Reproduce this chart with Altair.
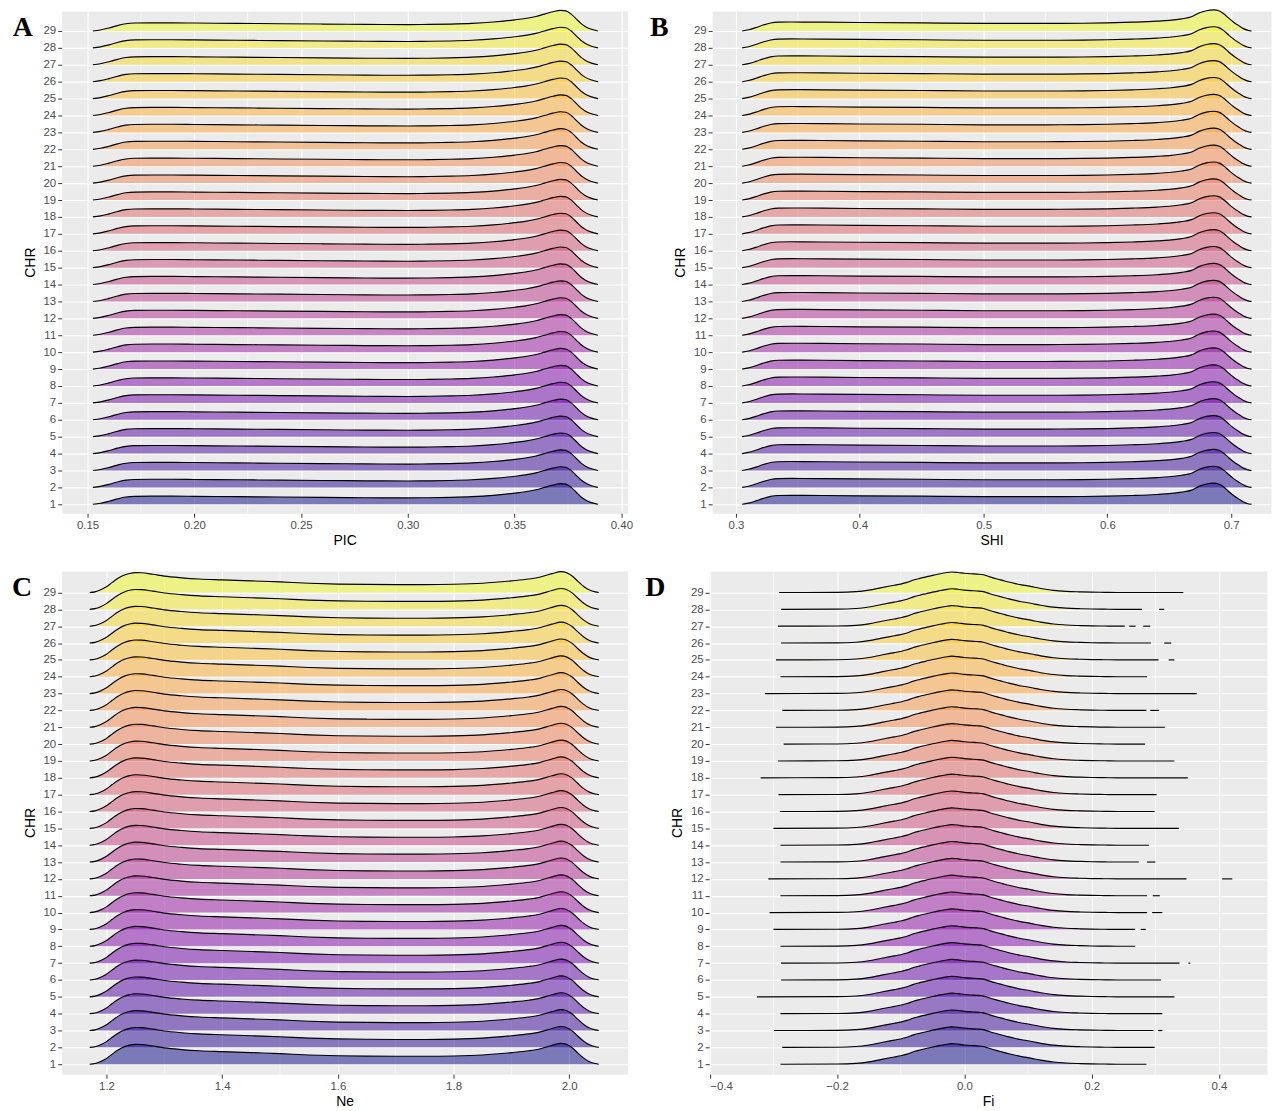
import altair as alt
import pandas as pd

ROWS = list(range(1, 30))

# Panel A: PIC ridge profile (height in row units)
PIC_X = [0.1525, 0.156, 0.160, 0.164, 0.168, 0.172, 0.18, 0.19, 0.20, 0.22, 0.24, 0.26, 0.28, 0.30,
         0.31, 0.32, 0.33, 0.34, 0.35, 0.355, 0.36, 0.364, 0.368, 0.3715, 0.374, 0.3765, 0.379,
         0.381, 0.383, 0.386, 0.389]
PIC_H = [0.0, 0.06, 0.18, 0.32, 0.43, 0.47, 0.48, 0.48, 0.47, 0.45, 0.43, 0.41, 0.39, 0.38,
         0.39, 0.41, 0.45, 0.53, 0.66, 0.74, 0.86, 1.0, 1.14, 1.22, 1.19, 1.0, 0.70,
         0.45, 0.27, 0.10, 0.0]

# Panel B: SHI
SHI_X = [0.305, 0.31, 0.316, 0.322, 0.328, 0.334, 0.345, 0.37, 0.40, 0.45, 0.50, 0.55, 0.58, 0.60,
         0.62, 0.64, 0.65, 0.66, 0.668, 0.674, 0.680, 0.686, 0.690, 0.694, 0.698, 0.702, 0.706,
         0.710, 0.713, 0.7165]
SHI_H = [0.0, 0.07, 0.2, 0.35, 0.47, 0.52, 0.53, 0.52, 0.50, 0.48, 0.45, 0.45, 0.46, 0.48,
         0.52, 0.58, 0.63, 0.72, 0.84, 1.06, 1.2, 1.25, 1.2, 1.02, 0.76, 0.52, 0.32,
         0.14, 0.05, 0.0]

# Panel C: Ne
NE_X = [1.171, 1.18, 1.19, 1.20, 1.21, 1.22, 1.23, 1.24, 1.25, 1.26, 1.28, 1.30, 1.33, 1.36, 1.40,
        1.45, 1.50, 1.55, 1.60, 1.65, 1.70, 1.75, 1.80, 1.85, 1.90, 1.93, 1.95, 1.97, 1.986,
        1.995, 2.005, 2.015, 2.025, 2.035, 2.045, 2.051]
NE_H = [0.0, 0.04, 0.16, 0.34, 0.60, 0.84, 1.02, 1.13, 1.18, 1.17, 1.08, 0.97, 0.87, 0.80, 0.75,
        0.69, 0.63, 0.55, 0.50, 0.48, 0.47, 0.47, 0.49, 0.55, 0.69, 0.80, 0.92, 1.12, 1.24,
        1.18, 0.98, 0.66, 0.36, 0.15, 0.04, 0.0]

# Panel D: Fi
FI_X = [-0.20, -0.17, -0.15, -0.13, -0.11, -0.10, -0.09, -0.08, -0.07, -0.06, -0.05, -0.04, -0.03,
        -0.02, -0.01, 0.0, 0.01, 0.02, 0.03, 0.04, 0.05, 0.06, 0.07, 0.08, 0.09, 0.10, 0.11, 0.12,
        0.13, 0.14, 0.16, 0.18, 0.20, 0.22, 0.24]
FI_H = [0.01, 0.05, 0.14, 0.29, 0.43, 0.50, 0.60, 0.74, 0.84, 0.93, 1.02, 1.10, 1.17,
        1.22, 1.19, 1.14, 1.11, 1.09, 1.05, 0.93, 0.82, 0.72, 0.62, 0.53, 0.45, 0.39, 0.31, 0.24,
        0.18, 0.13, 0.07, 0.04, 0.02, 0.01, 0.0]
FI_LEFT = [-0.289, -0.286, -0.299, -0.289, -0.326, -0.288, -0.288, -0.289, -0.300, -0.306,
           -0.289, -0.308, -0.289, -0.289, -0.300, -0.290, -0.292, -0.320, -0.293, -0.284,
           -0.296, -0.286, -0.313, -0.289, -0.296, -0.288, -0.293, -0.288, -0.291]
FI_RIGHT = [0.286, 0.299, 0.297, 0.311, 0.330, 0.309, 0.338, 0.268, 0.268, 0.287,
            0.287, 0.349, 0.274, 0.290, 0.337, 0.299, 0.302, 0.351, 0.330, 0.284,
            0.315, 0.286, 0.365, 0.287, 0.305, 0.293, 0.252, 0.279, 0.344]
DASH_ROW = [3, 7, 9, 10, 11, 12, 13, 22, 25, 26, 27, 27, 28]
DASH_START = [0.304, 0.352, 0.277, 0.295, 0.296, 0.405, 0.287, 0.292, 0.321, 0.314, 0.259, 0.281, 0.306]
DASH_END = [0.311, 0.355, 0.285, 0.311, 0.307, 0.421, 0.300, 0.306, 0.330, 0.325, 0.269, 0.292, 0.314]

PIC_TICKS = [0.15, 0.20, 0.25, 0.30, 0.35, 0.40]
PIC_MINOR = [0.175, 0.225, 0.275, 0.325, 0.375]
SHI_TICKS = [0.3, 0.4, 0.5, 0.6, 0.7]
SHI_MINOR = [0.35, 0.45, 0.55, 0.65]
NE_TICKS = [1.2, 1.4, 1.6, 1.8, 2.0]
NE_MINOR = [1.3, 1.5, 1.7, 1.9]
FI_TICKS = [-0.4, -0.2, 0.0, 0.2, 0.4]
FI_MINOR = [-0.3, -0.1, 0.1, 0.3]


def same_rows(xs, hs):
    recs = []
    for r in ROWS:
        for x, h in zip(xs, hs):
            recs.append({"row": r, "x": x, "top": r + h, "base": r})
    return pd.DataFrame(recs)


def clipped_rows(xs, hs, lefts, rights):
    recs = []
    for r, lo, hi in zip(ROWS, lefts, rights):
        recs.append({"row": r, "x": lo, "top": r, "base": r})
        for x, h in zip(xs, hs):
            if lo < x < hi:
                recs.append({"row": r, "x": x, "top": r + h, "base": r})
        recs.append({"row": r, "x": hi, "top": r, "base": r})
    return pd.DataFrame(recs)


def panel(df, xdom, ydom, ticks, minor, fmt, title, letter, lx, w, h, dashes=None):
    xs = alt.Scale(domain=xdom, nice=False, zero=False)
    ys = alt.Scale(domain=ydom, nice=False, zero=False)
    xaxis = alt.Axis(values=ticks, format=fmt, grid=True, titlePadding=3, labelOverlap=False)
    yaxis = alt.Axis(values=ROWS, format="d", grid=True, titlePadding=6, labelOverlap=False)
    minor_layer = alt.Chart(pd.DataFrame({"v": minor})).mark_rule(
        color="white", strokeWidth=0.55
    ).encode(x=alt.X("v:Q", scale=xs, title=title, axis=xaxis))
    area = alt.Chart(df).mark_area(fillOpacity=0.5, interpolate="monotone").encode(
        x=alt.X("x:Q", scale=xs, title=title, axis=xaxis),
        y=alt.Y("top:Q", scale=ys, title="CHR", axis=yaxis),
        y2="base:Q",
        color=alt.Color("row:Q", scale=alt.Scale(scheme="plasma", domain=[1, 29]), legend=None),
        detail="row:N",
    )
    line = alt.Chart(df).mark_line(color="black", strokeWidth=1.15, interpolate="monotone").encode(
        x=alt.X("x:Q", scale=xs, title=title, axis=xaxis),
        y=alt.Y("top:Q", scale=ys, title="CHR", axis=yaxis),
        detail="row:N",
    )
    layers = [minor_layer, area, line]
    if dashes is not None:
        layers.append(
            alt.Chart(dashes).mark_rule(color="black", strokeWidth=1.15).encode(
                x=alt.X("s:Q", scale=xs, title=title, axis=xaxis), x2="e:Q",
                y=alt.Y("row:Q", scale=ys, title="CHR", axis=yaxis)
            )
        )
    lab = alt.Chart(pd.DataFrame({"t": [letter]})).mark_text(
        font="Liberation Serif", fontWeight="bold", fontSize=28, align="center",
        baseline="alphabetic", color="black"
    ).encode(text="t:N", x=alt.value(lx), y=alt.value(25))
    layers.append(lab)
    return alt.layer(*layers).properties(width=w, height=h)


dfA = same_rows(PIC_X, PIC_H)
dfB = same_rows(SHI_X, SHI_H)
dfC = same_rows(NE_X, NE_H)
dfD = clipped_rows(FI_X, FI_H, FI_LEFT, FI_RIGHT)
dash_df = pd.DataFrame({"row": DASH_ROW, "s": DASH_START, "e": DASH_END})

pA = panel(dfA, [0.1379, 0.4029], [0.47, 30.18], PIC_TICKS, PIC_MINOR, ".2f", "PIC", "A", -39, 569, 505)
pB = panel(dfB, [0.2807, 0.7322], [0.47, 30.18], SHI_TICKS, SHI_MINOR, ".1f", "SHI", "B", -53, 562, 505)
pC = panel(dfC, [1.1226, 2.1008], [0.41, 30.28], NE_TICKS, NE_MINOR, ".1f", "Ne", "C", -40, 569, 506)
pD = panel(dfD, [-0.401, 0.4755], [0.41, 30.28], FI_TICKS, FI_MINOR, ".1f", "Fi", "D", -54, 561, 506,
           dashes=dash_df)

top = alt.hconcat(pA, pB, spacing=16)
bottom = alt.hconcat(pC, pD, spacing=16)
chart = alt.vconcat(top, bottom, spacing=20).properties(
    padding={"left": 3, "top": -4, "right": 0, "bottom": 0}
).configure_view(
    fill="#EBEBEB", stroke="transparent"
).configure_axis(
    domain=False, tickColor="#333333", tickSize=4, tickWidth=1,
    labelColor="#4D4D4D", labelFontSize=11.5, labelFont="Liberation Sans", labelPadding=2,
    titleFont="Liberation Sans", titleFontSize=14, titleFontWeight="normal", titleColor="black",
    gridColor="white", gridWidth=1.1, gridOpacity=1
).configure_concat(spacing=16)

chart.save("out.html", embed_options={"renderer": "svg", "actions": False})
